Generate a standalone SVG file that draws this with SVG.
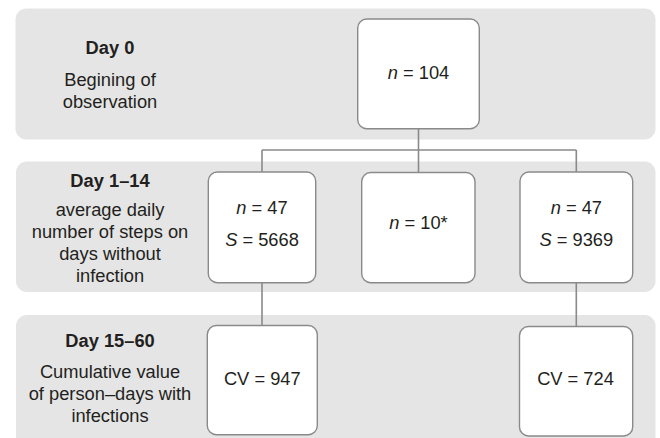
<svg xmlns="http://www.w3.org/2000/svg" width="660" height="438" viewBox="0 0 660 438">
<style>
.band{fill:#e5e5e5;}
.box{fill:#fff;stroke:#8a8a8a;stroke-width:1.4;}
.conn{fill:none;stroke:#8a8a8a;stroke-width:1.6;}
text{font-family:"Liberation Sans",Arial,sans-serif;font-size:18.3px;fill:#231f20;text-anchor:middle;}
.b{font-weight:bold;}
.i{font-style:italic;}
</style>
<rect width="660" height="438" fill="#fff"/>
<g id="bands">
<rect class="band" x="15.5" y="8.5" width="640" height="131" rx="11"/>
<rect class="band" x="16" y="161.5" width="639.5" height="130.5" rx="11"/>
<rect class="band" x="16" y="315" width="639.5" height="140" rx="11"/>
</g>
<g id="labels">
<text class="b" x="110" y="54">Day 0</text>
<text x="110" y="86">Begining of</text>
<text x="110" y="108">observation</text>
<text class="b" x="110" y="186.5">Day 1–14</text>
<text x="110" y="215.5">average daily</text>
<text x="110" y="237.5">number of steps on</text>
<text x="110" y="259.5">days without</text>
<text x="110" y="281.5">infection</text>
<text class="b" x="110" y="347">Day 15–60</text>
<text x="110" y="378">Cumulative value</text>
<text x="110" y="400">of person–days with</text>
<text x="110" y="421.5">infections</text>
</g>
<g id="connectors">
<path class="conn" d="M418.5 128.7V150M262 150H576.3M262 150V172M418.5 150V172M576.3 150V172"/>
<path class="conn" d="M262 282.7V325.5M576.3 282.7V326.5"/>
</g>
<g id="node-n104">
<rect class="box" x="357.7" y="19" width="121.6" height="109.7" rx="9"/>
<text x="418.5" y="78.5"><tspan class="i">n</tspan> = 104</text>
</g>
<g id="node-n47-left">
<rect class="box" x="208.3" y="172" width="107.4" height="110.7" rx="9"/>
<text x="262" y="213.7"><tspan class="i">n</tspan> = 47</text>
<text x="262" y="246"><tspan class="i">S</tspan> = 5668</text>
</g>
<g id="node-n10">
<rect class="box" x="361.7" y="172.5" width="113.3" height="110.2" rx="9"/>
<text x="418.5" y="229.3"><tspan class="i">n</tspan> = 10*</text>
</g>
<g id="node-n47-right">
<rect class="box" x="520" y="172" width="112.7" height="110.7" rx="9"/>
<text x="576.3" y="213.7"><tspan class="i">n</tspan> = 47</text>
<text x="576.3" y="246"><tspan class="i">S</tspan> = 9369</text>
</g>
<g id="node-cv947">
<rect class="box" x="207.3" y="325.5" width="110" height="109.2" rx="9"/>
<text x="262.3" y="385.3">CV = 947</text>
</g>
<g id="node-cv724">
<rect class="box" x="519.5" y="326.5" width="113.2" height="109.5" rx="9"/>
<text x="575.5" y="385.3">CV = 724</text>
</g>
</svg>
